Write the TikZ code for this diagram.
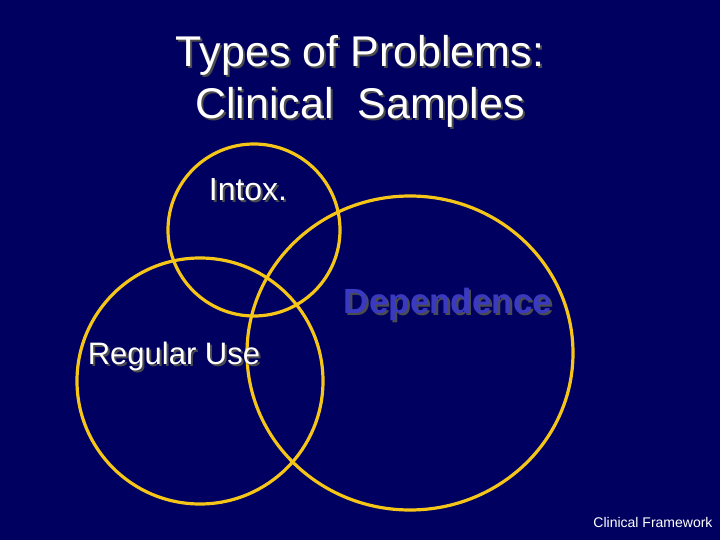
\documentclass[tikz,border=0pt]{standalone}
\usepackage{fontspec}
\setmainfont{Liberation Sans}
\definecolor{bg}{HTML}{000060}
\definecolor{ring}{HTML}{F5C518}
\definecolor{dep}{HTML}{3A3AC0}
\begin{document}
\begin{tikzpicture}[x=1pt,y=-1pt,
  ringst/.style={draw=ring,line width=3.2pt},
  lbl/.style={text=white,inner sep=0pt},
  shadowed/.style={inner sep=0pt,text=black!70}]
\fill[bg] (0,0) rectangle (720,540);
\useasboundingbox (0,0) rectangle (720,540);
\draw[ringst] (254,230) circle (86);
\draw[ringst] (200,381) circle (123);
\draw[ringst] (410,353) ellipse (163 and 157);
% title
\node[shadowed,align=center,font=\fontsize{43}{52}\selectfont] at (362,83) {Types of Problems:\\Clinical\ \ Samples};
\node[lbl,align=center,font=\fontsize{43}{52}\selectfont] (title) at (360,81) {Types of Problems:\\Clinical\ \ Samples};
\node[shadowed,font=\fontsize{32}{36}\selectfont] at (250,192) {Intox.};
\node[lbl,font=\fontsize{32}{36}\selectfont] (intox) at (248,190) {Intox.};
\node[shadowed,font=\fontsize{35}{40}\selectfont\bfseries] at (450,306) {Dependence};
\node[inner sep=0pt,text=dep,font=\fontsize{35}{40}\selectfont\bfseries] (dep) at (448,304) {Dependence};
\node[shadowed,font=\fontsize{31}{36}\selectfont] at (176,358) {Regular Use};
\node[lbl,font=\fontsize{31}{36}\selectfont] (reg) at (174,356) {Regular Use};
\node[lbl,font=\fontsize{14}{16}\selectfont] (cf) at (653,522) {Clinical Framework};
\end{tikzpicture}
\end{document}
